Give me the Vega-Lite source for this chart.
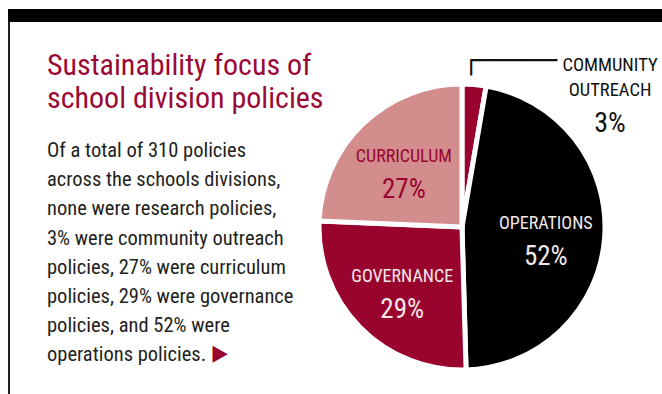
{
  "$schema": "https://vega.github.io/schema/vega-lite/v6.json",
  "background": "white",
  "padding": {"left": 8, "top": 9, "right": 0, "bottom": 0},
  "config": {"view": {"stroke": null}, "font": "Roboto Condensed"},
  "datasets": {
    "policies": [
      {"category": "Community outreach", "name": "COMMUNITY\nOUTREACH", "pct": 3, "pctLabel": "3%", "order": 1},
      {"category": "Operations", "name": "OPERATIONS", "pct": 52, "pctLabel": "52%", "order": 2},
      {"category": "Governance", "name": "GOVERNANCE", "pct": 29, "pctLabel": "29%", "order": 3},
      {"category": "Curriculum", "name": "CURRICULUM", "pct": 27, "pctLabel": "27%", "order": 4}
    ]
  },
  "bounds": "flush",
  "spacing": 0,
  "vconcat": [
    {"width": 654, "height": 13, "view": {"fill": "#000000", "stroke": null}, "data": {"values": []}, "mark": "point"},
    {
      "bounds": "flush",
      "spacing": 0,
      "hconcat": [
        {
          "width": 2,
          "height": 372,
          "view": {"fill": "#1e1e1e", "stroke": null},
          "data": {"values": [{"glyph": "▶"}]},
          "mark": {"type": "text", "font": "DejaVu Sans Condensed", "fontSize": 22, "color": "#99042f", "dx": 211, "dy": 145},
          "encoding": {"text": {"field": "glyph", "type": "nominal"}}
        },
        {
          "width": 312,
          "height": 29,
          "title": {
            "text": ["Sustainability focus of", "school division policies"],
            "subtitle": [
              "Of a total of 310 policies",
              "across the schools divisions,",
              "none were research policies,",
              "3% were community outreach",
              "policies, 27% were curriculum",
              "policies, 29% were governance",
              "policies, and 52% were",
              "operations policies."
            ],
            "orient": "bottom",
            "anchor": "start",
            "frame": "group",
            "offset": 0,
            "dx": 37,
            "font": "Roboto Condensed",
            "fontSize": 30,
            "fontWeight": "normal",
            "color": "#990a35",
            "lineHeight": 33,
            "subtitleFont": "Roboto Condensed",
            "subtitleFontSize": 20.5,
            "subtitleColor": "#231f20",
            "subtitleLineHeight": 29.2,
            "subtitlePadding": 27
          },
          "data": {"values": []},
          "mark": "point"
        },
        {
          "bounds": "flush",
          "spacing": 0,
          "vconcat": [
            {"width": 280, "height": 38, "data": {"values": []}, "mark": "point"},
            {
              "width": 280,
              "height": 334,
              "data": {"name": "policies"},
              "encoding": {
                "theta": {"field": "pct", "type": "quantitative", "stack": true},
                "order": {"field": "order", "type": "quantitative"}
              },
              "layer": [
                {
                  "mark": {"type": "arc", "outerRadius": 143, "stroke": "white", "strokeWidth": 5},
                  "encoding": {
                    "color": {
                      "field": "category",
                      "type": "nominal",
                      "scale": {
                        "domain": ["Community outreach", "Operations", "Governance", "Curriculum"],
                        "range": ["#99042f", "#000000", "#99042f", "#d38d8d"]
                      },
                      "legend": null
                    }
                  }
                },
                {
                  "mark": {"type": "text", "radius": 84, "dy": -9, "fontSize": 18, "baseline": "middle", "align": "center"},
                  "encoding": {
                    "detail": {"field": "category", "type": "nominal"},
                    "text": {"condition": {"test": "datum.category === 'Community outreach'", "value": ""}, "field": "name", "type": "nominal"},
                    "color": {"condition": {"test": "datum.category === 'Curriculum'", "value": "#99042f"}, "value": "#f4e8e8"}
                  }
                },
                {
                  "mark": {"type": "text", "radius": 84, "dy": 24, "fontSize": 27, "baseline": "middle", "align": "center"},
                  "encoding": {
                    "detail": {"field": "category", "type": "nominal"},
                    "text": {"condition": {"test": "datum.category === 'Community outreach'", "value": ""}, "field": "pctLabel", "type": "nominal"},
                    "color": {"condition": {"test": "datum.category === 'Curriculum'", "value": "#99042f"}, "value": "#f4e8e8"}
                  }
                },
                {
                  "mark": {"type": "text", "radius": 170, "dx": 133.6, "dy": 13, "fontSize": 18.5, "lineHeight": 25, "lineBreak": "\n", "baseline": "alphabetic", "align": "center", "color": "#111111"},
                  "encoding": {
                    "detail": {"field": "category", "type": "nominal"},
                    "text": {"condition": {"test": "datum.category !== 'Community outreach'", "value": ""}, "field": "name", "type": "nominal"}
                  }
                },
                {
                  "mark": {"type": "text", "radius": 170, "dx": 133.6, "dy": 74, "fontSize": 28, "baseline": "alphabetic", "align": "center", "color": "#111111"},
                  "encoding": {
                    "detail": {"field": "category", "type": "nominal"},
                    "text": {"condition": {"test": "datum.category !== 'Community outreach'", "value": ""}, "field": "pctLabel", "type": "nominal"}
                  }
                },
                {
                  "mark": {"type": "text", "radius": 170, "dx": -13.2, "dy": 11.4, "font": "DejaVu Sans Mono", "fontSize": 26, "baseline": "alphabetic", "align": "left", "color": "#111111"},
                  "encoding": {
                    "detail": {"field": "category", "type": "nominal"},
                    "text": {"condition": {"test": "datum.category === 'Community outreach'", "value": "┌─────"}, "value": ""}
                  }
                }
              ]
            }
          ]
        }
      ]
    }
  ]
}
